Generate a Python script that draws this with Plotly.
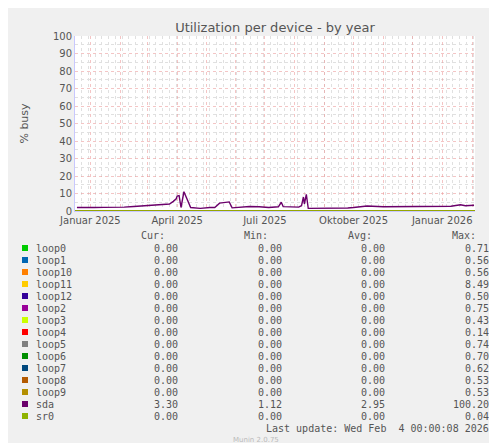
import plotly.graph_objects as go

names = ["loop0","loop1","loop10","loop11","loop12","loop2","loop3","loop4","loop5","loop6","loop7","loop8","loop9","sda","sr0"]
colors = ["#00cc00","#0066b3","#ff8000","#ffcc00","#330099","#990099","#ccff00","#ff0000","#808080","#008f00","#00487d","#b35a00","#b38f00","#6b006b","#8fb300"]
cur = ["0.00"]*13 + ["3.30","0.00"]
mins = ["0.00"]*13 + ["1.12","0.00"]
avgs = ["0.00"]*13 + ["2.95","0.00"]
maxs = ["0.71","0.56","0.56","8.49","0.50","0.75","0.43","0.14","0.74","0.70","0.62","0.53","0.53","100.20","0.04"]

sda_dates = ["2024-12-18","2024-12-28","2025-01-05","2025-01-15","2025-01-25","2025-02-05","2025-02-15","2025-02-25","2025-03-05","2025-03-12","2025-03-18","2025-03-24","2025-03-28","2025-03-31","2025-04-01","2025-04-03","2025-04-05","2025-04-08","2025-04-15","2025-04-25","2025-05-05","2025-05-10","2025-05-15","2025-05-20","2025-05-25","2025-05-28","2025-06-05","2025-06-15","2025-06-25","2025-07-05","2025-07-15","2025-07-18","2025-07-20","2025-07-28","2025-08-05","2025-08-08","2025-08-10","2025-08-11","2025-08-13","2025-08-15","2025-08-25","2025-09-10","2025-09-25","2025-10-01","2025-10-15","2025-11-01","2025-11-20","2025-12-10","2025-12-28","2026-01-10","2026-01-20","2026-01-25","2026-02-03"]
sda_vals = [2.0,2.2,2.0,2.1,2.0,2.2,2.6,3.0,3.1,3.8,4.0,4.0,5.5,7.0,8.5,8.8,2.0,11.0,2.0,1.5,2.0,2.0,4.5,5.0,5.2,1.8,2.2,2.6,2.4,2.0,2.4,5.0,2.5,2.3,2.2,3.0,8.0,4.0,9.5,1.5,1.5,1.5,1.7,2.0,2.9,2.4,2.5,2.7,2.6,2.7,3.6,3.0,3.3]

X0, X1 = "2024-12-16", "2026-02-04"
fig = go.Figure()
for n, c in zip(names, colors):
    if n == "sda":
        xs, ys = sda_dates, sda_vals
    else:
        xs, ys = [X0, X1], [0, 0]
    fig.add_trace(go.Scatter(x=xs, y=ys, mode="lines", line=dict(color=c, width=1.4), showlegend=False))

PL, PR, PT, PB = 67, 467, 28, 203
W, H = 497, 443
def px(x): return (x - PL) / (PR - PL)
def py(y): return (PB - y) / (PB - PT)

months = ["2025-%02d-01" % m for m in range(1, 13)] + ["2026-01-01", "2026-02-01"]
labels = {"2025-01-01": "Januar 2025", "2025-04-01": "April 2025", "2025-07-01": "Juli 2025", "2025-10-01": "Oktober 2025", "2026-01-01": "Januar 2026"}
ticktext = [labels.get(m, "") for m in months]

fig.update_layout(
    width=W, height=H, margin=dict(l=PL, r=W-PR, t=PT, b=H-PB, autoexpand=False),
    paper_bgcolor="#f0f0f0", plot_bgcolor="#ffffff",
    font=dict(family="DejaVu Sans", size=10, color="#555555"),
    title=dict(text="Utilization per device - by year", x=0.5, xref="paper", y=1-19/H, yanchor="middle",
               automargin=False, font=dict(size=13, color="#555555")),
    xaxis=dict(range=[X0, X1], tickvals=months, ticktext=ticktext, showgrid=True, automargin=False,
               gridcolor="rgba(235,150,150,0.55)", griddash="dot", gridwidth=1, ticks="",
               tickfont=dict(size=10, color="#555555"), zeroline=False, showline=True, linecolor="#c8c8ff",
               minor=dict(dtick=7*86400000, tick0="2024-12-16", showgrid=True, gridcolor="#e0e0e0", griddash="dot")),
    yaxis=dict(range=[0, 100], dtick=10, showgrid=True, gridcolor="rgba(235,150,150,0.55)", griddash="dot",
               automargin=False, ticks="", tickfont=dict(size=10, color="#555555"), zeroline=False,
               showline=True, linecolor="#c8c8ff",
               title=dict(text="% busy", font=dict(size=11, color="#555555"), standoff=22),
               minor=dict(dtick=5, showgrid=True, gridcolor="#e0e0e0", griddash="dot")),
)

ann = []
def A(text, x, y, xanchor="left", size=10, color="#555555", family="DejaVu Sans Mono", angle=0):
    ann.append(dict(text=text, x=px(x), y=py(y), xref="paper", yref="paper", xanchor=xanchor, yanchor="middle",
                    showarrow=False, textangle=angle, font=dict(family=family, size=size, color=color)))

A("RRDTOOL / TOBI OETIKER", 486, 60, "center", 7, "#bbbbbb", "DejaVu Sans", 90)
for hdr, xr in [("Cur:", 159), ("Min:", 262), ("Avg:", 366), ("Max:", 470)]:
    A(hdr, xr, 227, "right")
shapes = []
for i, n in enumerate(names):
    yy = 240 + 12 * i
    shapes.append(dict(type="rect", xref="paper", yref="paper", x0=px(14), x1=px(20), y0=py(yy+3), y1=py(yy-3),
                       fillcolor=colors[i], line=dict(width=0)))
    A(n, 26, yy)
    A(cur[i], 172, yy, "right")
    A(mins[i], 276, yy, "right")
    A(avgs[i], 379, yy, "right")
    A(maxs[i], 483, yy, "right")
A("Last update: Wed Feb  4 00:00:08 2026", 483, 420, "right")
A("Munin 2.0.75", 248, 432, "center", 7, "#bbbbbb", "DejaVu Sans")
fig.update_layout(annotations=ann, shapes=shapes)
fig.write_html("out.html")
